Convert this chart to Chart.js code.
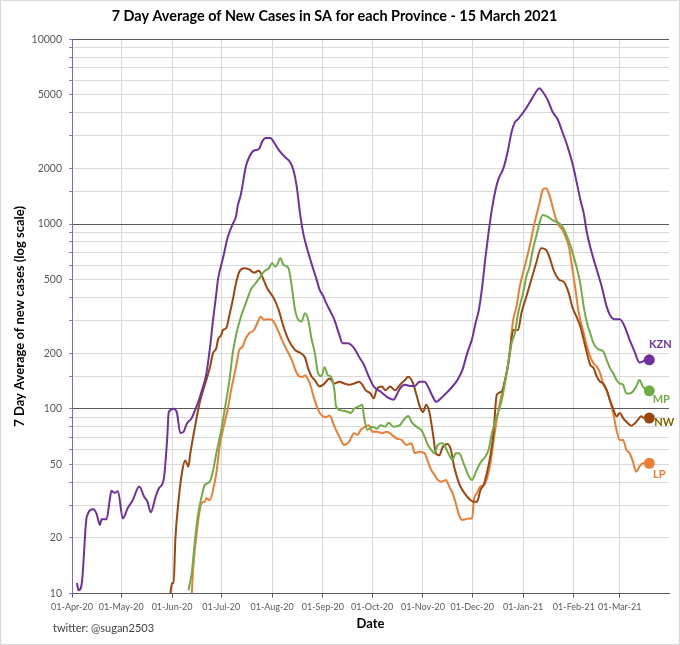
<!DOCTYPE html>
<html>
<head>
<meta charset="utf-8">
<title>7 Day Average of New Cases in SA for each Province</title>
<script src="https://cdn.jsdelivr.net/npm/chart.js@4.4.0/dist/chart.umd.min.js"></script>
<style>
  html, body { margin: 0; padding: 0; background: #fff; }
  #wrap { width: 680px; height: 645px; }
</style>
</head>
<body>
<div id="wrap"><canvas id="provinceChart" width="680" height="645"></canvas></div>
<script>
// days counted from 01-Apr-2020
const tickDays = [0, 30, 61, 91, 122, 153, 183, 214, 244, 275, 306, 334];
const tickLabels = ['01-Apr-20', '01-May-20', '01-Jun-20', '01-Jul-20', '01-Aug-20', '01-Sep-20',
  '01-Oct-20', '01-Nov-20', '01-Dec-20', '01-Jan-21', '01-Feb-21', '01-Mar-21'];
const yTicks = [10, 20, 50, 100, 200, 500, 1000, 2000, 5000, 10000];

const provinces = ['KZN', 'MP', 'NW', 'LP'];

const kznDays = [3, 4, 6, 9, 13, 15, 17, 18, 21, 23, 24, 26, 28, 31, 34, 37, 41, 44, 46, 48, 51, 53, 56, 58, 59, 62, 64, 66, 68, 70,
  73, 75, 77, 79, 82, 84, 86, 88, 89, 92, 95, 98, 100, 101, 103, 106, 108, 111, 114, 116, 118, 121, 123, 126, 130, 133, 135, 137, 139, 141,
  143, 146, 149, 151, 153, 155, 158, 160, 163, 165, 168, 172, 175, 178, 181, 184, 188, 192, 196, 198, 200, 203, 206, 209, 212, 215, 217, 220, 222, 225,
  228, 232, 235, 238, 241, 244, 246, 248, 250, 252, 254, 256, 258, 260, 263, 266, 268, 270, 272, 274, 277, 280, 283, 285, 287, 290, 293, 296, 299, 302,
  305, 307, 310, 312, 314, 317, 320, 323, 326, 328, 331, 334, 337, 340, 343, 346, 348, 350, 352];
const kznCases = [11.4, 10.4, 11.4, 26, 28.6, 27, 23.5, 25.2, 25.2, 32, 36, 35, 35.8, 25.5, 29, 32, 37.9, 33.4, 31.4, 27.5, 33.4, 37.1, 42, 68, 96, 100, 95, 74, 75, 83,
  89, 98, 109, 124, 156, 210, 303, 420, 500, 650, 850, 1000, 1100, 1250, 1450, 2050, 2300, 2500, 2550, 2800, 2920, 2920, 2780, 2520, 2300, 2160, 1960, 1600, 1150, 890,
  755, 613, 505, 440, 410, 373, 330, 303, 251, 226, 226, 213, 191, 173, 149, 132, 124, 116, 112, 119, 129, 135, 133, 133, 140, 140, 132, 116, 109, 114,
  121, 132, 143, 162, 200, 240, 290, 340, 450, 650, 900, 1200, 1500, 1750, 2000, 2550, 3150, 3550, 3700, 3900, 4250, 4700, 5200, 5436, 5200, 4700, 4050, 3700, 3150, 2650,
  2150, 1800, 1350, 1143, 891, 695, 564, 458, 357, 322, 305, 305, 278, 236, 204, 178, 180, 185, 184];

const mpDays = [71, 73, 75, 77, 79, 81, 84, 86, 88, 91, 93, 96, 98, 100, 103, 106, 109, 112, 115, 117, 120, 122, 124, 125, 127, 129, 132, 134, 136, 138,
  140, 142, 144, 146, 148, 150, 152, 154, 156, 158, 160, 161, 164, 167, 170, 172, 175, 177, 178, 180, 183, 186, 188, 191, 193, 196, 200, 202, 205, 207,
  210, 213, 215, 217, 219, 221, 223, 226, 229, 232, 234, 236, 239, 242, 244, 246, 249, 252, 254, 256, 259, 262, 265, 268, 270, 272, 275, 277, 279, 281,
  283, 285, 287, 290, 293, 295, 297, 299, 302, 304, 306, 308, 310, 312, 314, 316, 318, 320, 322, 324, 326, 328, 330, 332, 334, 336, 338, 340, 342, 344,
  346, 348, 352];
const mpCases = [10.4, 12.9, 19.5, 27.2, 33.4, 38.7, 40.3, 46.2, 57.4, 76.7, 98, 143, 200, 250, 315, 373, 440, 478, 519, 552, 576, 613, 588, 600, 653, 600, 576, 458, 343, 303,
  297, 329, 303, 240, 202, 156, 150, 168, 152, 149, 126, 103, 98, 97, 95, 100, 103, 105, 91, 77, 80, 78, 81.5, 80, 84, 80, 81.5, 86.6, 91.5, 85,
  80, 76.7, 70.6, 63.7, 59.9, 57.4, 63.7, 65, 58.6, 52.8, 57.4, 57.4, 50, 43, 41.2, 45, 51, 55, 60, 73.7, 90.6, 111, 156, 226, 256, 329, 422, 519, 588, 726,
  855, 1010, 1120, 1097, 1051, 1030, 1010, 968, 850, 760, 660, 570, 470, 357, 291, 256, 226, 213, 208, 204, 184, 166, 156, 143, 137, 135, 121, 121, 124, 132,
  143, 132, 125];

const nwDays = [60, 61, 62, 63, 65, 67, 69, 71, 72, 75, 78, 81, 84, 86, 88, 89, 91, 92, 94, 96, 98, 100, 102, 105, 108, 111, 114, 116, 119, 123,
  126, 129, 132, 136, 139, 142, 144, 146, 148, 151, 154, 157, 160, 163, 166, 169, 172, 175, 177, 179, 182, 184, 186, 189, 191, 194, 197, 200, 203, 205,
  208, 210, 212, 214, 216, 218, 220, 222, 224, 226, 229, 231, 233, 236, 238, 241, 243, 245, 247, 249, 251, 253, 255, 257, 259, 262, 265, 267, 269, 272,
  274, 277, 280, 283, 286, 289, 291, 294, 297, 300, 303, 305, 308, 310, 312, 314, 316, 318, 320, 322, 324, 326, 328, 330, 332, 334, 336, 338, 341, 343,
  345, 347, 349, 352];
const nwCases = [10, 11.4, 11.4, 19.5, 32, 44.8, 52.4, 48.6, 56.3, 80, 109, 135, 166, 200, 213, 236, 251, 267, 273, 322, 388, 478, 552, 576, 568, 545, 559, 519, 449, 397,
  343, 278, 236, 208, 201, 190, 165, 150, 143, 132, 137, 146, 137, 140, 137, 135, 137, 140, 135, 126, 121, 114, 129, 132, 126, 132, 126, 135, 143, 149,
  137, 119, 103, 96, 105, 95, 74, 57, 56, 62, 64.5, 60, 48.6, 39.5, 36.3, 33.4, 32, 31.4, 31.4, 36.3, 38.7, 45, 55, 74, 119, 124, 156, 200, 267, 267,
  329, 404, 498, 613, 740, 726, 666, 552, 500, 485, 420, 357, 309, 278, 236, 200, 173, 166, 149, 140, 137, 126, 111, 100, 91, 95, 89, 85, 81, 83,
  87, 91, 89, 89];

const lpDays = [73, 74, 76, 79, 81, 82, 84, 86, 88, 90, 92, 95, 97, 100, 102, 104, 106, 108, 111, 113, 115, 117, 120, 122, 125, 128, 131, 134, 137, 139,
  141, 142, 145, 148, 151, 153, 155, 157, 160, 163, 166, 169, 172, 174, 176, 179, 181, 183, 186, 189, 192, 195, 198, 201, 204, 207, 209, 212, 215, 217,
  219, 221, 223, 225, 228, 230, 232, 234, 236, 238, 240, 242, 244, 245, 247, 249, 251, 253, 255, 256, 258, 260, 263, 266, 269, 271, 273, 276, 279, 282,
  285, 287, 289, 291, 293, 295, 297, 299, 301, 303, 305, 307, 309, 312, 314, 316, 318, 320, 322, 324, 326, 328, 330, 332, 334, 336, 338, 340, 342, 344,
  346, 348, 352];
const lpCases = [10, 14, 21.2, 30.8, 31.4, 32.8, 32, 36.3, 44.8, 62.4, 76.7, 100, 126, 169, 208, 217, 241, 256, 267, 291, 315, 303, 305, 303, 273, 236, 208, 184, 156, 149,
  149, 152, 137, 111, 95, 91, 90, 92, 80, 70.6, 63.7, 66.4, 73.7, 72.2, 76.7, 80, 81.5, 75.2, 75.2, 73.7, 75.2, 72.2, 69, 67.8, 63.7, 65, 57.4, 58.6, 57.4, 51.7,
  46.7, 43.9, 41.2, 40.3, 41.2, 37.9, 34.9, 30.8, 26.5, 25, 25.2, 25.5, 25.5, 32, 35, 38, 38.5, 42, 50, 57.4, 76.7, 98, 132, 176, 303, 357, 458, 588, 755, 1010,
  1296, 1530, 1563, 1441, 1242, 1070, 980, 930, 850, 750, 580, 440, 330, 256, 217, 191, 176, 169, 156, 135, 126, 111, 94.6, 76.7, 67.8, 67.8, 59.9, 57.4, 51.7, 45.6,
  48.6, 50.7, 50.7];

const seriesDays = [kznDays, mpDays, nwDays, lpDays];
const seriesCases = [kznCases, mpCases, nwCases, lpCases];

const lineColors = ['#7030A0', '#70AD47', '#9C4610', '#ED7D31'];
const labelColors = ['#7030A0', '#70AD47', '#846000', '#ED7D31'];
const labelOffsets = [[11, -15], [12, 9], [15, 4], [10, 11]];

const FONT = 'Lato, "Liberation Sans", sans-serif';

function isDecade(v) {
  const l = Math.log10(v);
  return Math.abs(l - Math.round(l)) < 1e-9;
}

const endLabels = {
  id: 'endLabels',
  afterDatasetsDraw(chart) {
    const ctx = chart.ctx;
    ctx.save();
    ctx.font = 'bold 11px ' + FONT;
    ctx.textAlign = 'center';
    ctx.textBaseline = 'middle';
    chart.data.datasets.forEach((ds, i) => {
      const pts = chart.getDatasetMeta(i).data;
      const last = pts[pts.length - 1];
      ctx.fillStyle = labelColors[i];
      ctx.fillText(ds.label, last.x + labelOffsets[i][0], last.y + labelOffsets[i][1]);
    });
    ctx.restore();
  },
  afterDraw(chart) {
    const ctx = chart.ctx;
    ctx.save();
    ctx.font = '11px ' + FONT;
    ctx.fillStyle = '#404040';
    ctx.textAlign = 'left';
    ctx.textBaseline = 'middle';
    ctx.fillText('twitter: @sugan2503', 53, 628);
    ctx.strokeStyle = '#d9d9d9';
    ctx.lineWidth = 1;
    ctx.strokeRect(0.5, 0.5, chart.width - 1, chart.height - 1);
    ctx.restore();
  }
};

const datasets = provinces.map((name, i) => ({
  label: name,
  data: seriesDays[i].map((d, j) => ({ x: d, y: seriesCases[i][j] })),
  borderColor: lineColors[i],
  backgroundColor: lineColors[i],
  borderWidth: 2,
  cubicInterpolationMode: 'monotone',
  pointRadius: (c) => c.dataIndex === seriesDays[i].length - 1 ? 5.5 : 0,
  pointHoverRadius: 0,
  pointBorderWidth: 0,
  fill: false
}));

new Chart(document.getElementById('provinceChart'), {
  type: 'line',
  data: { datasets },
  plugins: [endLabels],
  options: {
    responsive: false,
    animation: false,
    clip: false,
    layout: { padding: { left: 0, right: 11, top: 0, bottom: 0 } },
    plugins: {
      legend: { display: false },
      tooltip: { enabled: false },
      title: {
        display: true,
        text: '7 Day Average of New Cases in SA for each Province - 15 March 2021',
        color: '#000',
        font: { family: FONT, size: 14.4, weight: 'bold' },
        padding: { top: 8, bottom: 14 }
      }
    },
    scales: {
      x: {
        type: 'linear',
        min: 0,
        max: 364,
        afterBuildTicks: (scale) => { scale.ticks = tickDays.map(v => ({ value: v })); },
        afterFit: (scale) => { scale.height = 51.5; },
        ticks: {
          autoSkip: false,
          maxRotation: 0,
          padding: 4,
          color: '#595959',
          font: { family: FONT, size: 9 },
          callback: (v) => tickLabels[tickDays.indexOf(v)]
        },
        grid: { color: '#d9d9d9', lineWidth: 1, tickLength: 4, tickColor: '#595959' },
        border: { color: '#595959', width: 1 },
        title: {
          display: true,
          text: 'Date',
          color: '#000',
          font: { family: FONT, size: 13, weight: 'bold' },
          padding: { top: 0, bottom: 13 }
        }
      },
      y: {
        type: 'logarithmic',
        min: 10,
        max: 10000,
        afterFit: (scale) => { scale.width = 72; },
        ticks: {
          autoSkip: false,
          padding: 7,
          color: '#595959',
          font: { family: FONT, size: 10.5 },
          callback: (v) => yTicks.includes(v) ? String(v) : ''
        },
        grid: {
          color: (c) => c.tick && isDecade(c.tick.value) ? '#595959' : '#d9d9d9',
          lineWidth: 1,
          tickLength: 3,
          tickColor: '#9b72c4'
        },
        border: { color: '#8e63b8', width: 1 },
        title: {
          display: true,
          text: '7 Day Average of new cases (log scale)',
          color: '#000',
          font: { family: FONT, size: 13, weight: 'bold' },
          padding: { top: 12, bottom: 0 }
        }
      }
    }
  }
});
</script>
</body>
</html>
